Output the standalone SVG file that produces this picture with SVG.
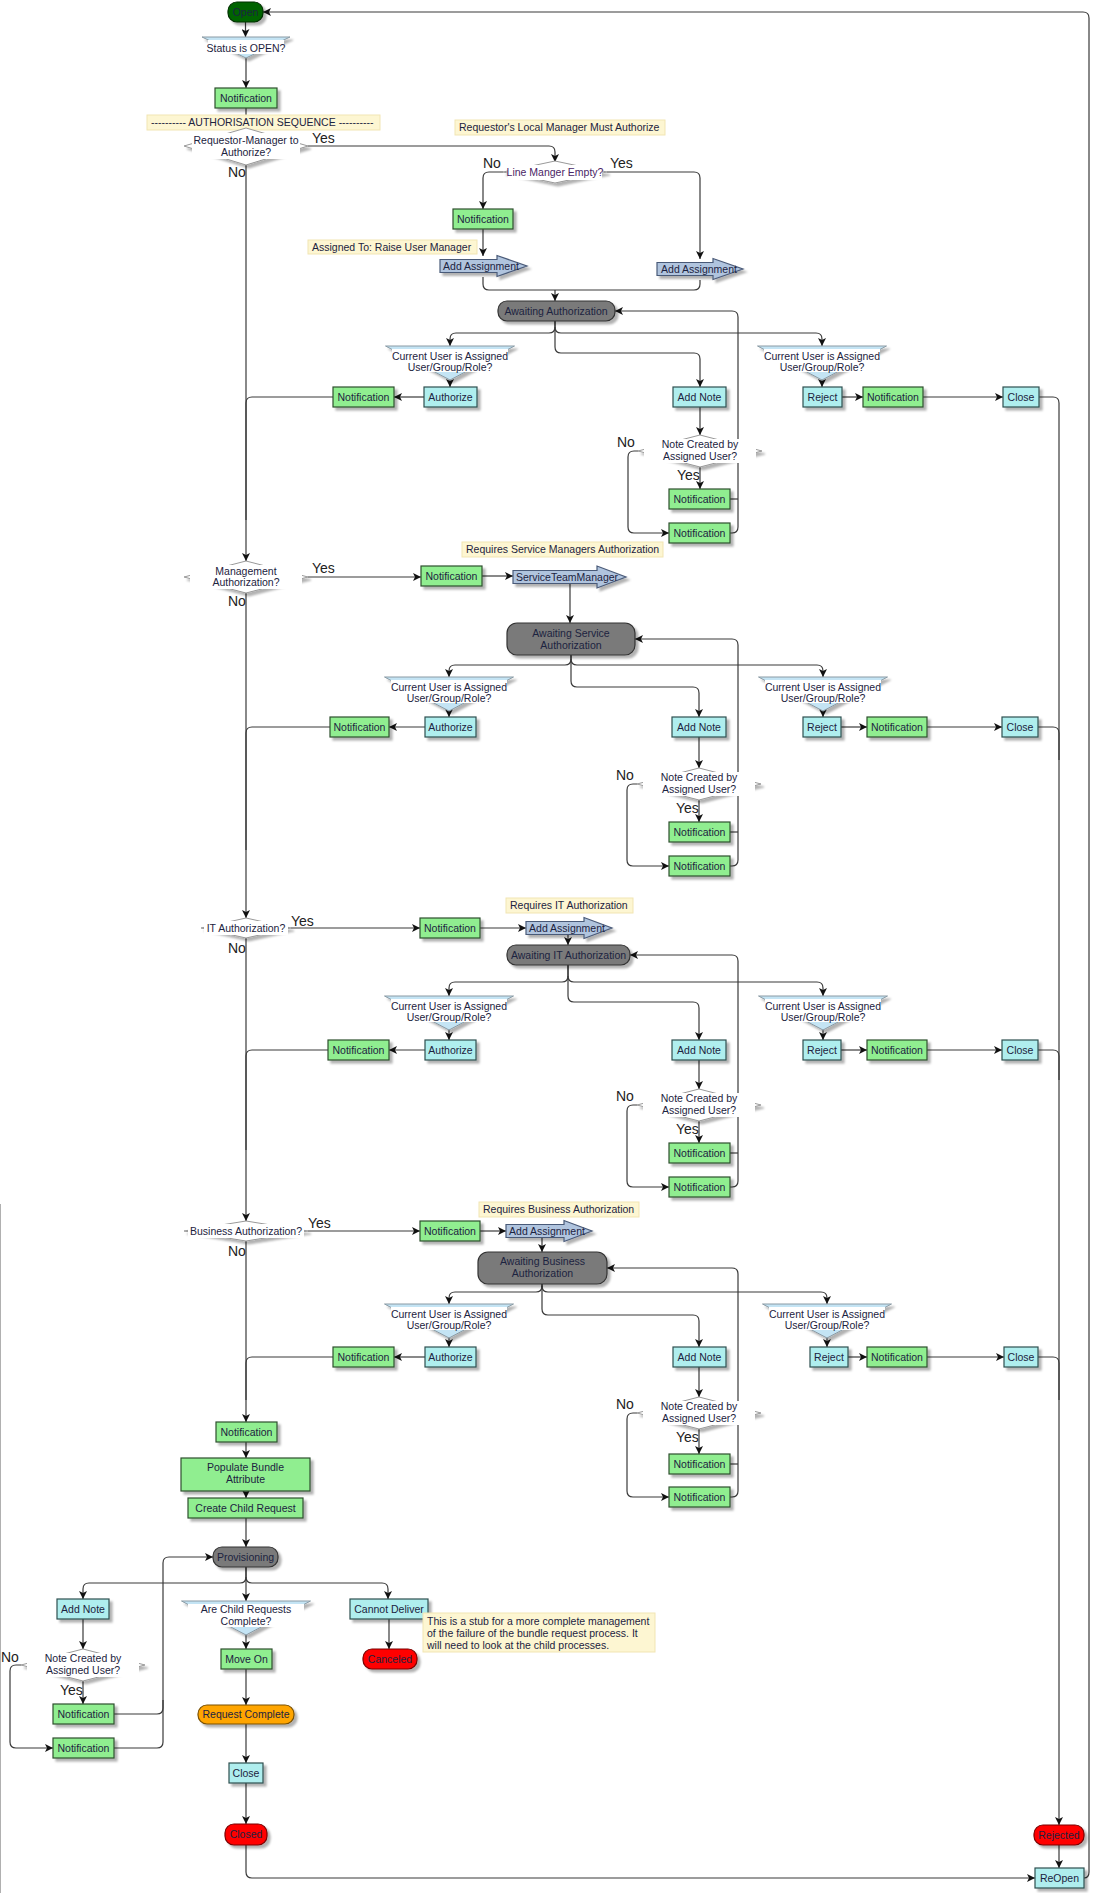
<svg xmlns="http://www.w3.org/2000/svg" width="1095" height="1893" viewBox="0 0 1095 1893">
<defs>
<marker id="ah" viewBox="0 0 10 10" refX="10" refY="5" markerWidth="9" markerHeight="8" orient="auto" markerUnits="userSpaceOnUse"><path d="M0,0 L10,5 L0,10 L2.5,5 z" fill="#111"/></marker>
<filter id="sh" x="-20%" y="-30%" width="150%" height="180%"><feDropShadow dx="3" dy="3" stdDeviation="1.2" flood-color="#000" flood-opacity="0.3"/></filter>
<style>
.c{fill:none;stroke:#3a3a3a;stroke-width:1.2}
.a{marker-end:url(#ah)}
.n{fill:#90ee90;stroke:#2f4f2f;stroke-width:1.2;filter:url(#sh)}
.b{fill:#afeeee;stroke:#2f4f4f;stroke-width:1.2;filter:url(#sh)}
.g{fill:#7a7a7a;stroke:#333;stroke-width:1.2;filter:url(#sh)}
.r{fill:#ff0000;stroke:#7a0000;stroke-width:1.2;filter:url(#sh)}
.o{fill:#ffa500;stroke:#7a5000;stroke-width:1.2;filter:url(#sh)}
.dg{fill:#006400;stroke:#003000;stroke-width:1.2;filter:url(#sh)}
.asg{fill:#b0c4de;stroke:#4a5a78;stroke-width:1.2;filter:url(#sh)}
.ann{fill:#fdf6d2;stroke:#f1e5b3}
.dq{fill:#c4e4f4;stroke:#8a9aa4;filter:url(#sh)}
.dw{fill:#fff;stroke:#999;filter:url(#sh)}
.tb{fill:#fff}
text{font-family:"Liberation Sans",Arial,sans-serif;font-size:10.5px;fill:#1c2340}
.t{text-anchor:middle}
.yn{font-size:14px;fill:#222}
.pu{fill:#4a2565}
.frame{fill:none;stroke:#b0b0b0;stroke-width:1}
</style>
</defs>
<g id="frame"><path class="frame" d="M0.5 1204 V1893"/></g>
<g id="connectors">
<path class="c a" d="M245.5 22 V37"/>
<path class="c a" d="M246 58 V88"/>
<path class="c" d="M246 108 V128"/>
<path class="c a" d="M308 146 H549 Q555 146 555 152 V162"/>
<path class="c a" d="M246 165 V561"/>
<path class="c a" d="M503 172 H489 Q483 172 483 178 V209"/>
<path class="c a" d="M607 172 H694 Q700 172 700 178 V259"/>
<path class="c a" d="M483 229 V256"/>
<path class="c" d="M483 277 V284 Q483 290 489 290 H694 Q700 290 700 284 V280"/>
<path class="c a" d="M555 290 V301"/>
<!-- S1 -->
<path class="c a" d="M555 321 V327 Q555 333 549 333 H456 Q450 333 450 339 V346"/>
<path class="c a" d="M555 327 Q555 333 561 333 H816 Q822 333 822 339 V346"/>
<path class="c a" d="M555 321 V347 Q555 353 561 353 H694 Q700 353 700 359 V387"/>
<path class="c a" d="M450 378 V387"/>
<path class="c a" d="M822 378 V387"/>
<path class="c a" d="M424 397 H394"/>
<path class="c a" d="M842 397 H863"/>
<path class="c a" d="M923 397 H1003"/>
<path class="c a" d="M1039 397 H1053 Q1059 397 1059 403 V1825"/>
<path class="c a" d="M700 407 V435"/>
<path class="c a" d="M700 467 V489"/>
<path class="c a" d="M638 451 H634 Q628 451 628 457 V527 Q628 533 634 533 H669"/>
<path class="c" d="M730 499 H738"/>
<path class="c a" d="M730 533 H732 Q738 533 738 527 V317 Q738 311 732 311 H615"/>
<path class="c" d="M333 397 H252 Q246 397 246 403 V520"/>
<!-- Management -->
<path class="c a" d="M246 593 V918"/>
<path class="c a" d="M308 577 H421"/>
<path class="c a" d="M482 576 H513"/>
<path class="c a" d="M570 584 V623"/>
<!-- S2 -->
<path class="c a" d="M571 655 V659 Q571 665 565 665 H455 Q449 665 449 671 V677"/>
<path class="c a" d="M571 659 Q571 665 577 665 H817 Q823 665 823 671 V677"/>
<path class="c a" d="M571 655 V681 Q571 687 577 687 H693 Q699 687 699 693 V717"/>
<path class="c a" d="M449 709 V717"/>
<path class="c a" d="M823 709 V717"/>
<path class="c a" d="M425 727 H389"/>
<path class="c a" d="M841 727 H867"/>
<path class="c a" d="M927 727 H1002"/>
<path class="c" d="M1038 727 H1053 Q1059 727 1059 733 V760"/>
<path class="c a" d="M699 737 V768"/>
<path class="c a" d="M699 800 V822"/>
<path class="c a" d="M637 784 H633 Q627 784 627 790 V860 Q627 866 633 866 H669"/>
<path class="c" d="M730 832 H738"/>
<path class="c a" d="M730 866 H732 Q738 866 738 860 V645 Q738 639 732 639 H635"/>
<path class="c" d="M330 727 H252 Q246 727 246 733 V850"/>
<!-- IT -->
<path class="c a" d="M246 938 V1221"/>
<path class="c a" d="M291 928 H420"/>
<path class="c a" d="M480 928 H526"/>
<path class="c a" d="M568 935 V945"/>
<!-- S3 -->
<path class="c a" d="M568 965 V976 Q568 982 562 982 H455 Q449 982 449 988 V996"/>
<path class="c a" d="M568 976 Q568 982 574 982 H817 Q823 982 823 988 V996"/>
<path class="c a" d="M568 965 V996 Q568 1002 574 1002 H693 Q699 1002 699 1008 V1040"/>
<path class="c a" d="M449 1029 V1040"/>
<path class="c a" d="M823 1029 V1040"/>
<path class="c a" d="M425 1050 H389"/>
<path class="c a" d="M841 1050 H867"/>
<path class="c a" d="M927 1050 H1002"/>
<path class="c" d="M1038 1050 H1053 Q1059 1050 1059 1056 V1080"/>
<path class="c a" d="M699 1060 V1089"/>
<path class="c a" d="M699 1121 V1143"/>
<path class="c a" d="M637 1105 H633 Q627 1105 627 1111 V1181 Q627 1187 633 1187 H669"/>
<path class="c" d="M730 1153 H738"/>
<path class="c a" d="M730 1187 H732 Q738 1187 738 1181 V961 Q738 955 732 955 H630"/>
<path class="c" d="M328 1050 H252 Q246 1050 246 1056 V1150"/>
<!-- Business -->
<path class="c a" d="M246 1241 V1422"/>
<path class="c a" d="M308 1231 H420"/>
<path class="c a" d="M480 1231 H506"/>
<path class="c a" d="M542 1238 V1252"/>
<!-- S4 -->
<path class="c a" d="M542 1284 V1286 Q542 1292 536 1292 H455 Q449 1292 449 1298 V1304"/>
<path class="c a" d="M542 1286 Q542 1292 548 1292 H821 Q827 1292 827 1298 V1304"/>
<path class="c a" d="M542 1284 V1309 Q542 1315 548 1315 H693 Q699 1315 699 1321 V1347"/>
<path class="c a" d="M449 1337 V1347"/>
<path class="c a" d="M827 1337 V1347"/>
<path class="c a" d="M425 1357 H394"/>
<path class="c a" d="M848 1357 H867"/>
<path class="c a" d="M927 1357 H1004"/>
<path class="c" d="M1038 1357 H1053 Q1059 1357 1059 1363 V1400"/>
<path class="c a" d="M699 1367 V1397"/>
<path class="c a" d="M699 1429 V1454"/>
<path class="c a" d="M637 1413 H633 Q627 1413 627 1419 V1491 Q627 1497 633 1497 H669"/>
<path class="c" d="M730 1464 H738"/>
<path class="c a" d="M730 1497 H732 Q738 1497 738 1491 V1274 Q738 1268 732 1268 H607"/>
<path class="c" d="M333 1357 H252 Q246 1357 246 1363 V1400"/>
<!-- Bottom -->
<path class="c a" d="M246 1442 V1458"/>
<path class="c a" d="M246 1491 V1498"/>
<path class="c a" d="M246 1518 V1547"/>
<path class="c a" d="M246 1567 V1577 Q246 1583 240 1583 H89 Q83 1583 83 1589 V1599"/>
<path class="c a" d="M246 1577 Q246 1583 252 1583 H382 Q388 1583 388 1589 V1599"/>
<path class="c a" d="M246 1567 V1601"/>
<path class="c a" d="M83 1619 V1649"/>
<path class="c a" d="M83 1681 V1704"/>
<path class="c a" d="M21 1665 H16 Q10 1665 10 1671 V1742 Q10 1748 16 1748 H53"/>
<path class="c a" d="M114 1714 H157 Q163 1714 163 1708 V1563 Q163 1557 169 1557 H213"/>
<path class="c" d="M114 1748 H157 Q163 1748 163 1742 V1700"/>
<path class="c a" d="M246 1633 V1649"/>
<path class="c a" d="M246 1669 V1705"/>
<path class="c a" d="M246 1724 V1763"/>
<path class="c a" d="M246 1783 V1824"/>
<path class="c a" d="M246 1845 V1872 Q246 1878 252 1878 H1035"/>
<path class="c a" d="M389 1619 V1649"/>
<path class="c a" d="M1059 1845 V1868"/>
<path class="c a" d="M1084 1878 Q1089 1878 1089 1872 V18 Q1089 12 1083 12 H263"/>
</g>

<g id="open"><rect class="dg" x="228" y="2" width="35" height="20" rx="9"/><text class="t" x="245.5" y="15.7">Open</text></g>
<g id="status-open"><polygon class="dq" points="202,37 290,37 246,58"/><rect class="tb" x="208" y="40" width="76" height="14"/><text class="t" x="246" y="51.5">Status is OPEN?</text></g>
<g id="notif-start"><rect class="n" x="215" y="88" width="62" height="20"/><text class="t" x="246" y="101.7">Notification</text></g>
<g id="ann-auth-seq"><rect class="ann" x="147" y="115" width="233" height="15"/><text x="151" y="126">---------- AUTHORISATION SEQUENCE ----------</text></g>
<g id="dec-req-manager"><polygon class="dw" points="184,146 246,128 308,146 246,165"/><rect class="tb" x="192" y="133" width="108" height="26"/><text class="t" x="246" y="143.7">Requestor-Manager to</text><text class="t" x="246" y="155.7">Authorize?</text></g>
<g id="lbl-rm"><text class="yn" x="312" y="143">Yes</text><text class="yn" x="228" y="177">No</text></g>
<g id="ann-local-manager"><rect class="ann" x="455" y="120" width="210" height="15"/><text x="459" y="131">Requestor's Local Manager Must Authorize</text></g>
<g id="dec-line-manager"><polygon class="dw" points="503,172 555,161 607,172 555,183"/><rect class="tb" x="508" y="165" width="94" height="15"/><text class="t pu" x="555" y="175.7">Line Manger Empty?</text></g>
<g id="lbl-lm"><text class="yn" x="483" y="168">No</text><text class="yn" x="610" y="168">Yes</text></g>
<g id="notif-lm"><rect class="n" x="453" y="209" width="60" height="20"/><text class="t" x="483" y="222.7">Notification</text></g>
<g id="ann-assigned"><rect class="ann" x="308" y="240" width="169" height="14"/><text x="312" y="250.7">Assigned To: Raise User Manager</text></g>
<g id="add-assign-1"><polygon class="asg" points="440,259.5 497,259.5 497,255.5 527,266 497,276.5 497,272.5 440,272.5"/><text class="t" x="481" y="269.7">Add Assignment</text></g>
<g id="add-assign-2"><polygon class="asg" points="657,262.5 713,262.5 713,258.5 743,269 713,279.5 713,275.5 657,275.5"/><text class="t" x="699" y="272.7">Add Assignment</text></g>
<g id="awaiting-auth"><rect class="g" x="498" y="301" width="117" height="20" rx="9"/><text class="t" x="556" y="314.7">Awaiting Authorization</text></g>

<g id="s1-dec-left"><polygon class="dq" points="385.5,346 514.5,346 450,380"/><rect class="tb" x="392" y="349" width="116" height="23"/><text class="t" x="450" y="359.7">Current User is Assigned</text><text class="t" x="450" y="370.7">User/Group/Role?</text></g>
<g id="s1-dec-right"><polygon class="dq" points="757.5,346 886.5,346 822,380"/><rect class="tb" x="764" y="349" width="116" height="23"/><text class="t" x="822" y="359.7">Current User is Assigned</text><text class="t" x="822" y="370.7">User/Group/Role?</text></g>
<g id="s1-notif-left"><rect class="n" x="333" y="387" width="61" height="20"/><text class="t" x="363.5" y="400.7">Notification</text></g>
<g id="s1-authorize"><rect class="b" x="424" y="387" width="53" height="20"/><text class="t" x="450.5" y="400.7">Authorize</text></g>
<g id="s1-add-note"><rect class="b" x="673" y="387" width="53" height="20"/><text class="t" x="699.5" y="400.7">Add Note</text></g>
<g id="s1-reject"><rect class="b" x="803" y="387" width="39" height="20"/><text class="t" x="822.5" y="400.7">Reject</text></g>
<g id="s1-notif-right"><rect class="n" x="863" y="387" width="60" height="20"/><text class="t" x="893" y="400.7">Notification</text></g>
<g id="s1-close"><rect class="b" x="1003" y="387" width="36" height="20"/><text class="t" x="1021" y="400.7">Close</text></g>
<g id="s1-note-dec"><polygon class="dw" points="638,451 700,435 762,451 700,467"/><rect class="tb" x="644" y="439" width="112" height="24"/><text class="t" x="700" y="447.7">Note Created by</text><text class="t" x="700" y="459.7">Assigned User?</text></g>
<g id="s1-lbl"><text class="yn" x="617" y="447">No</text><text class="yn" x="677" y="480">Yes</text></g>
<g id="s1-notif-yes"><rect class="n" x="669" y="489" width="61" height="20"/><text class="t" x="699.5" y="502.7">Notification</text></g>
<g id="s1-notif-no"><rect class="n" x="669" y="523" width="61" height="20"/><text class="t" x="699.5" y="536.7">Notification</text></g>

<g id="dec-management"><polygon class="dw" points="184,577 246,561 308,577 246,593"/><rect class="tb" x="190" y="565" width="112" height="24"/><text class="t" x="246" y="574.7">Management</text><text class="t" x="246" y="585.7">Authorization?</text></g>
<g id="lbl-mg"><text class="yn" x="312" y="573">Yes</text><text class="yn" x="228" y="606">No</text></g>
<g id="ann-service"><rect class="ann" x="462" y="542" width="201" height="15"/><text x="466" y="553">Requires Service Managers Authorization</text></g>
<g id="notif-mg"><rect class="n" x="421" y="566" width="61" height="20"/><text class="t" x="451.5" y="579.7">Notification</text></g>
<g id="service-team-manager"><polygon class="asg" points="513,570.5 597,570.5 597,566 626,577 597,588 597,583.5 513,583.5"/><text class="t" x="567" y="580.7">ServiceTeamManager</text></g>
<g id="awaiting-service"><rect class="g" x="507" y="623" width="128" height="32" rx="10"/><text class="t" x="571" y="636.7">Awaiting Service</text><text class="t" x="571" y="648.7">Authorization</text></g>

<g id="s2-dec-left"><polygon class="dq" points="384.5,677 513.5,677 449,711"/><rect class="tb" x="391" y="680" width="116" height="23"/><text class="t" x="449" y="690.7">Current User is Assigned</text><text class="t" x="449" y="701.7">User/Group/Role?</text></g>
<g id="s2-dec-right"><polygon class="dq" points="758.5,677 887.5,677 823,711"/><rect class="tb" x="765" y="680" width="116" height="23"/><text class="t" x="823" y="690.7">Current User is Assigned</text><text class="t" x="823" y="701.7">User/Group/Role?</text></g>
<g id="s2-notif-left"><rect class="n" x="330" y="717" width="59" height="20"/><text class="t" x="359.5" y="730.7">Notification</text></g>
<g id="s2-authorize"><rect class="b" x="425" y="717" width="51" height="20"/><text class="t" x="450.5" y="730.7">Authorize</text></g>
<g id="s2-add-note"><rect class="b" x="672" y="717" width="54" height="20"/><text class="t" x="699" y="730.7">Add Note</text></g>
<g id="s2-reject"><rect class="b" x="803" y="717" width="38" height="20"/><text class="t" x="822" y="730.7">Reject</text></g>
<g id="s2-notif-right"><rect class="n" x="867" y="717" width="60" height="20"/><text class="t" x="897" y="730.7">Notification</text></g>
<g id="s2-close"><rect class="b" x="1002" y="717" width="36" height="20"/><text class="t" x="1020" y="730.7">Close</text></g>
<g id="s2-note-dec"><polygon class="dw" points="637,784 699,768 761,784 699,800"/><rect class="tb" x="643" y="772" width="112" height="24"/><text class="t" x="699" y="780.7">Note Created by</text><text class="t" x="699" y="792.7">Assigned User?</text></g>
<g id="s2-lbl"><text class="yn" x="616" y="780">No</text><text class="yn" x="676" y="813">Yes</text></g>
<g id="s2-notif-yes"><rect class="n" x="669" y="822" width="61" height="20"/><text class="t" x="699.5" y="835.7">Notification</text></g>
<g id="s2-notif-no"><rect class="n" x="669" y="856" width="61" height="20"/><text class="t" x="699.5" y="869.7">Notification</text></g>

<g id="dec-it"><polygon class="dw" points="201,928 246,918 291,928 246,938"/><rect class="tb" x="204" y="921" width="84" height="14"/><text class="t" x="246" y="931.7">IT Authorization?</text></g>
<g id="lbl-it"><text class="yn" x="291" y="926">Yes</text><text class="yn" x="228" y="953">No</text></g>
<g id="ann-it"><rect class="ann" x="506" y="898" width="127" height="15"/><text x="510" y="909">Requires IT Authorization</text></g>
<g id="notif-it"><rect class="n" x="420" y="918" width="60" height="20"/><text class="t" x="450" y="931.7">Notification</text></g>
<g id="add-assign-it"><polygon class="asg" points="526,921.5 584,921.5 584,917.5 612,928 584,938.5 584,934.5 526,934.5"/><text class="t" x="567" y="931.7">Add Assignment</text></g>
<g id="awaiting-it"><rect class="g" x="507" y="945" width="123" height="20" rx="9"/><text class="t" x="568.5" y="958.7">Awaiting IT Authorization</text></g>

<g id="s3-dec-left"><polygon class="dq" points="384.5,996 513.5,996 449,1030"/><rect class="tb" x="391" y="999" width="116" height="23"/><text class="t" x="449" y="1009.7">Current User is Assigned</text><text class="t" x="449" y="1020.7">User/Group/Role?</text></g>
<g id="s3-dec-right"><polygon class="dq" points="758.5,996 887.5,996 823,1030"/><rect class="tb" x="765" y="999" width="116" height="23"/><text class="t" x="823" y="1009.7">Current User is Assigned</text><text class="t" x="823" y="1020.7">User/Group/Role?</text></g>
<g id="s3-notif-left"><rect class="n" x="328" y="1040" width="61" height="20"/><text class="t" x="358.5" y="1053.7">Notification</text></g>
<g id="s3-authorize"><rect class="b" x="425" y="1040" width="51" height="20"/><text class="t" x="450.5" y="1053.7">Authorize</text></g>
<g id="s3-add-note"><rect class="b" x="672" y="1040" width="54" height="20"/><text class="t" x="699" y="1053.7">Add Note</text></g>
<g id="s3-reject"><rect class="b" x="803" y="1040" width="38" height="20"/><text class="t" x="822" y="1053.7">Reject</text></g>
<g id="s3-notif-right"><rect class="n" x="867" y="1040" width="60" height="20"/><text class="t" x="897" y="1053.7">Notification</text></g>
<g id="s3-close"><rect class="b" x="1002" y="1040" width="36" height="20"/><text class="t" x="1020" y="1053.7">Close</text></g>
<g id="s3-note-dec"><polygon class="dw" points="637,1105 699,1089 761,1105 699,1121"/><rect class="tb" x="643" y="1093" width="112" height="24"/><text class="t" x="699" y="1101.7">Note Created by</text><text class="t" x="699" y="1113.7">Assigned User?</text></g>
<g id="s3-lbl"><text class="yn" x="616" y="1101">No</text><text class="yn" x="676" y="1134">Yes</text></g>
<g id="s3-notif-yes"><rect class="n" x="669" y="1143" width="61" height="20"/><text class="t" x="699.5" y="1156.7">Notification</text></g>
<g id="s3-notif-no"><rect class="n" x="669" y="1177" width="61" height="20"/><text class="t" x="699.5" y="1190.7">Notification</text></g>

<g id="dec-business"><polygon class="dw" points="184,1231 246,1221 308,1231 246,1241"/><rect class="tb" x="188" y="1224" width="116" height="14"/><text class="t" x="246" y="1234.7">Business Authorization?</text></g>
<g id="lbl-bus"><text class="yn" x="308" y="1228">Yes</text><text class="yn" x="228" y="1256">No</text></g>
<g id="ann-business"><rect class="ann" x="479" y="1202" width="160" height="15"/><text x="483" y="1213">Requires Business Authorization</text></g>
<g id="notif-bus"><rect class="n" x="420" y="1221" width="60" height="20"/><text class="t" x="450" y="1234.7">Notification</text></g>
<g id="add-assign-bus"><polygon class="asg" points="506,1224.5 564,1224.5 564,1220.5 592,1231 564,1241.5 564,1237.5 506,1237.5"/><text class="t" x="547" y="1234.7">Add Assignment</text></g>
<g id="awaiting-business"><rect class="g" x="478" y="1252" width="129" height="32" rx="10"/><text class="t" x="542.5" y="1265.2">Awaiting Business</text><text class="t" x="542.5" y="1276.7">Authorization</text></g>

<g id="s4-dec-left"><polygon class="dq" points="384.5,1304 513.5,1304 449,1338"/><rect class="tb" x="391" y="1307" width="116" height="23"/><text class="t" x="449" y="1317.7">Current User is Assigned</text><text class="t" x="449" y="1328.7">User/Group/Role?</text></g>
<g id="s4-dec-right"><polygon class="dq" points="762.5,1304 891.5,1304 827,1338"/><rect class="tb" x="769" y="1307" width="116" height="23"/><text class="t" x="827" y="1317.7">Current User is Assigned</text><text class="t" x="827" y="1328.7">User/Group/Role?</text></g>
<g id="s4-notif-left"><rect class="n" x="333" y="1347" width="61" height="20"/><text class="t" x="363.5" y="1360.7">Notification</text></g>
<g id="s4-authorize"><rect class="b" x="425" y="1347" width="51" height="20"/><text class="t" x="450.5" y="1360.7">Authorize</text></g>
<g id="s4-add-note"><rect class="b" x="673" y="1347" width="53" height="20"/><text class="t" x="699.5" y="1360.7">Add Note</text></g>
<g id="s4-reject"><rect class="b" x="810" y="1347" width="38" height="20"/><text class="t" x="829" y="1360.7">Reject</text></g>
<g id="s4-notif-right"><rect class="n" x="867" y="1347" width="60" height="20"/><text class="t" x="897" y="1360.7">Notification</text></g>
<g id="s4-close"><rect class="b" x="1004" y="1347" width="34" height="20"/><text class="t" x="1021" y="1360.7">Close</text></g>
<g id="s4-note-dec"><polygon class="dw" points="637,1413 699,1397 761,1413 699,1429"/><rect class="tb" x="643" y="1401" width="112" height="24"/><text class="t" x="699" y="1409.7">Note Created by</text><text class="t" x="699" y="1421.7">Assigned User?</text></g>
<g id="s4-lbl"><text class="yn" x="616" y="1409">No</text><text class="yn" x="676" y="1442">Yes</text></g>
<g id="s4-notif-yes"><rect class="n" x="669" y="1454" width="61" height="20"/><text class="t" x="699.5" y="1467.7">Notification</text></g>
<g id="s4-notif-no"><rect class="n" x="669" y="1487" width="61" height="20"/><text class="t" x="699.5" y="1500.7">Notification</text></g>

<g id="notif-final"><rect class="n" x="216" y="1422" width="61" height="20"/><text class="t" x="246.5" y="1435.7">Notification</text></g>
<g id="populate-bundle"><rect class="n" x="181" y="1458" width="129" height="33"/><text class="t" x="245.5" y="1470.7">Populate Bundle</text><text class="t" x="245.5" y="1482.7">Attribute</text></g>
<g id="create-child"><rect class="n" x="188" y="1498" width="115" height="20"/><text class="t" x="245.5" y="1511.7">Create Child Request</text></g>
<g id="provisioning"><rect class="g" x="213" y="1547" width="65" height="20" rx="9"/><text class="t" x="245.5" y="1560.7">Provisioning</text></g>
<g id="p-add-note"><rect class="b" x="57" y="1599" width="52" height="20"/><text class="t" x="83" y="1612.7">Add Note</text></g>
<g id="p-note-dec"><polygon class="dw" points="21,1665 83,1649 145,1665 83,1681"/><rect class="tb" x="27" y="1653" width="112" height="24"/><text class="t" x="83" y="1661.7">Note Created by</text><text class="t" x="83" y="1673.7">Assigned User?</text></g>
<g id="p-lbl"><text class="yn" x="1" y="1662">No</text><text class="yn" x="60" y="1695">Yes</text></g>
<g id="p-notif-yes"><rect class="n" x="53" y="1704" width="61" height="20"/><text class="t" x="83.5" y="1717.7">Notification</text></g>
<g id="p-notif-no"><rect class="n" x="53" y="1738" width="61" height="20"/><text class="t" x="83.5" y="1751.7">Notification</text></g>
<g id="dec-child"><polygon class="dq" points="181.5,1601 310.5,1601 246,1635"/><rect class="tb" x="188" y="1604" width="116" height="23"/><text class="t" x="246" y="1612.7">Are Child Requests</text><text class="t" x="246" y="1624.7">Complete?</text></g>
<g id="move-on"><rect class="n" x="221" y="1649" width="51" height="20"/><text class="t" x="246.5" y="1662.7">Move On</text></g>
<g id="request-complete"><rect class="o" x="198" y="1705" width="96" height="19" rx="9"/><text class="t" x="246" y="1718.2">Request Complete</text></g>
<g id="close-final"><rect class="b" x="229" y="1763" width="34" height="20"/><text class="t" x="246" y="1776.7">Close</text></g>
<g id="closed"><rect class="r" x="225" y="1824" width="42" height="21" rx="9"/><text class="t" x="246" y="1838.2">Closed</text></g>
<g id="cannot-deliver"><rect class="b" x="350" y="1599" width="78" height="20"/><text class="t" x="389" y="1612.7">Cannot Deliver</text></g>
<g id="canceled"><rect class="r" x="363" y="1649" width="54" height="20" rx="9"/><text class="t" x="390" y="1662.7">Canceled</text></g>
<g id="ann-stub"><rect class="ann" x="423" y="1613" width="232" height="39"/><text x="427" y="1625">This is a stub for a more complete management</text><text x="427" y="1636.7">of the failure of the bundle request process. It</text><text x="427" y="1648.5">will need to look at the child processes.</text></g>
<g id="rejected"><rect class="r" x="1034" y="1825" width="50" height="20" rx="9"/><text class="t" x="1059" y="1838.7">Rejected</text></g>
<g id="reopen"><rect class="b" x="1035" y="1868" width="49" height="20"/><text class="t" x="1059.5" y="1881.7">ReOpen</text></g>
</svg>
